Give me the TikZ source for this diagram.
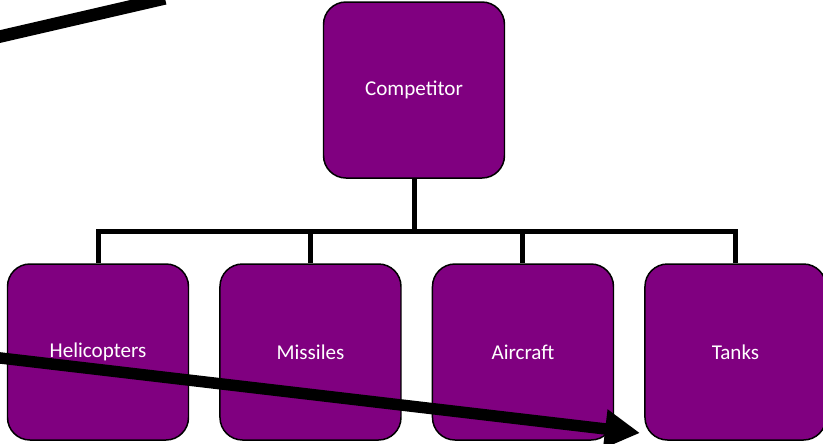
\documentclass[tikz,border=0pt]{standalone}
\usepackage{fontspec}
\setmainfont{Carlito}
\usetikzlibrary{positioning,arrows.meta}
\definecolor{orgpurple}{HTML}{800080}

\begin{document}
\begin{tikzpicture}[x=0.2mm,y=-0.2mm,every node/.append style={font=\rmfamily}]
    \tikzset{unit/.style={draw=black, line width=0.85pt, fill=orgpurple,
                          rounded corners=0.45cm, minimum width=3.62cm,
                          minimum height=3.52cm, inner sep=0pt, text=white,
                          font=\fontsize{12}{14}\selectfont},
             link/.style={line width=0.1cm},
             bar/.style={line width=0.23cm}}
    \useasboundingbox (0,0) rectangle (823,443);
    \node[unit] (comp) at (414,90) {Competitor};
    \node[unit] (heli) at (98,352) {Helicopters};
    \node[unit, right=0.6cm of heli] (miss) {Missiles};
    \node[unit, right=0.6cm of miss] (air)  {Aircraft};
    \node[unit, right=0.6cm of air]  (tank) {Tanks};
    % tree links
    \coordinate (hub) at (414,231);
    \draw[link] (comp.south) -- (hub);
    \foreach \n in {heli,miss,air,tank}
      \draw[link] (hub) -| (\n.north);
    % the two heavy strokes
    \coordinate (topA) at (-5,37.7);
    \coordinate (topB) at (165,-1.6);
    \draw[bar, line width=0.25cm] (topA) -- (topB);
    \coordinate (tail) at (-3,357.6);
    \coordinate (tip)  at (640,433);
    \draw[bar,-{Triangle[length=0.7cm,width=0.74cm]}] (tail) -- (tip);
\end{tikzpicture}
\end{document}
